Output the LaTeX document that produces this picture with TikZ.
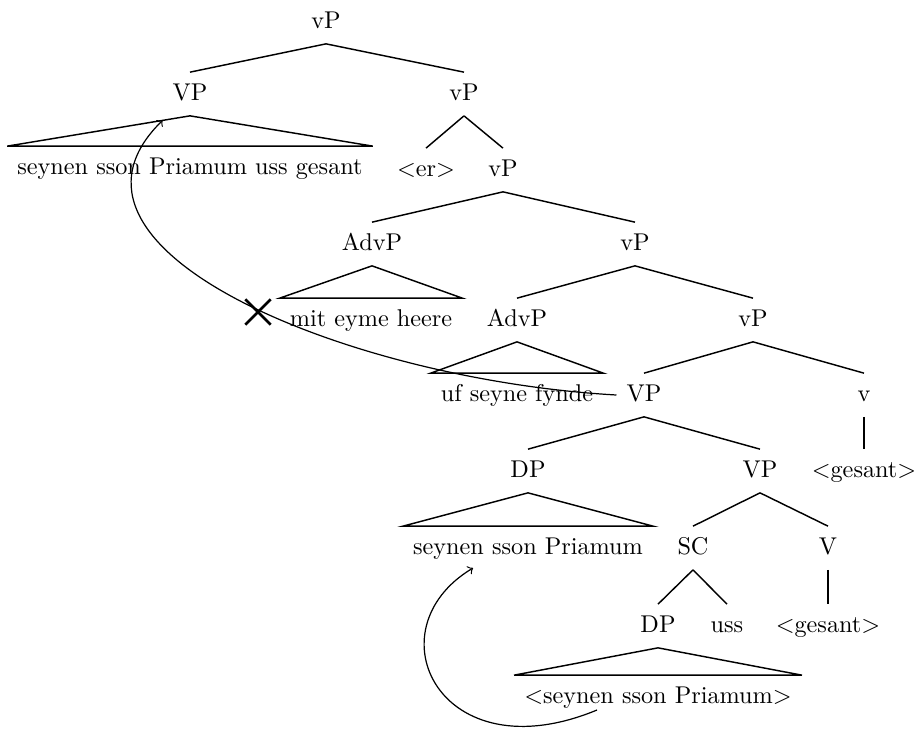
\documentclass[tikz,border=0pt]{standalone}
\usepackage{tikz}
\usetikzlibrary{shapes.misc,calc}

\tikzset{
  cat/.style={inner xsep=4pt, inner ysep=4.5pt, text height=1.6ex, text depth=.4ex},
  branch/.style={line width=0.6pt},
  move/.style={->, line width=0.5pt},
  trace/.style={draw, cross out, line width=1.1pt, inner sep=0pt, minimum size=0.33cm}
}

\begin{document}
\begin{tikzpicture}[x=0.0145cm, y=-0.0145cm]
  \useasboundingbox (0,0) rectangle (918,728);

  % categories and leaves, placed at their spots
  \foreach \n/\x/\y/\t in {
      vPa/326/22/vP, VPa/190/94/VP, vPb/464/94/vP,
      la/190/168/seynen sson Priamum uss gesant,
      er/426/170/$<$er$>$, vPc/503/170/vP,
      AdvPa/372/244/AdvP, vPd/635/244/vP,
      lb/371/320/mit eyme heere,
      AdvPb/517/320/AdvP, vPe/753/320/vP,
      lc/517/395/uf seyne fynde,
      VPb/644/395/VP, va/864/395/v,
      DPa/528/471/DP, VPc/760/471/VP, vt/864/471/$<$gesant$>$,
      ld/528/548/seynen sson Priamum,
      SC/693/548/SC, Va/828/548/V,
      DPb/658/626/DP, uss/727/626/uss, Vt/828/626/$<$gesant$>$,
      le/658/697/$<$seynen sson Priamum$>$}
    \node[cat] (\n) at (\x,\y) {\t};

  % branches
  \foreach \p/\c in {vPa/VPa, vPa/vPb, vPb/er, vPb/vPc, vPc/AdvPa, vPc/vPd,
                     vPd/AdvPb, vPd/vPe, vPe/VPb, vPe/va, va/vt,
                     VPb/DPa, VPb/VPc, VPc/SC, VPc/Va, Va/Vt, SC/DPb, SC/uss}
    \draw[branch] (\p.south) -- (\c.north);

  % triangles
  \foreach \p/\c in {VPa/la, AdvPa/lb, AdvPb/lc, DPa/ld, DPb/le}
    \draw[branch] (\p.south) -- (\c.north west) -- (\c.north east) -- cycle;

  % movement
  \coordinate (hd1) at ($(VPa.south)!0.15!(la.north west)$);
  \coordinate (tl2) at (597,710);
  \coordinate (hd2) at (473,568);
  \draw[move] (VPb.west) .. controls (350,380) and (30,250) .. (hd1);
  \draw[move] (tl2) .. controls (440,775) and (370,630) .. (hd2);
  \node[trace] (x) at (258,312) {};
\end{tikzpicture}
\end{document}
